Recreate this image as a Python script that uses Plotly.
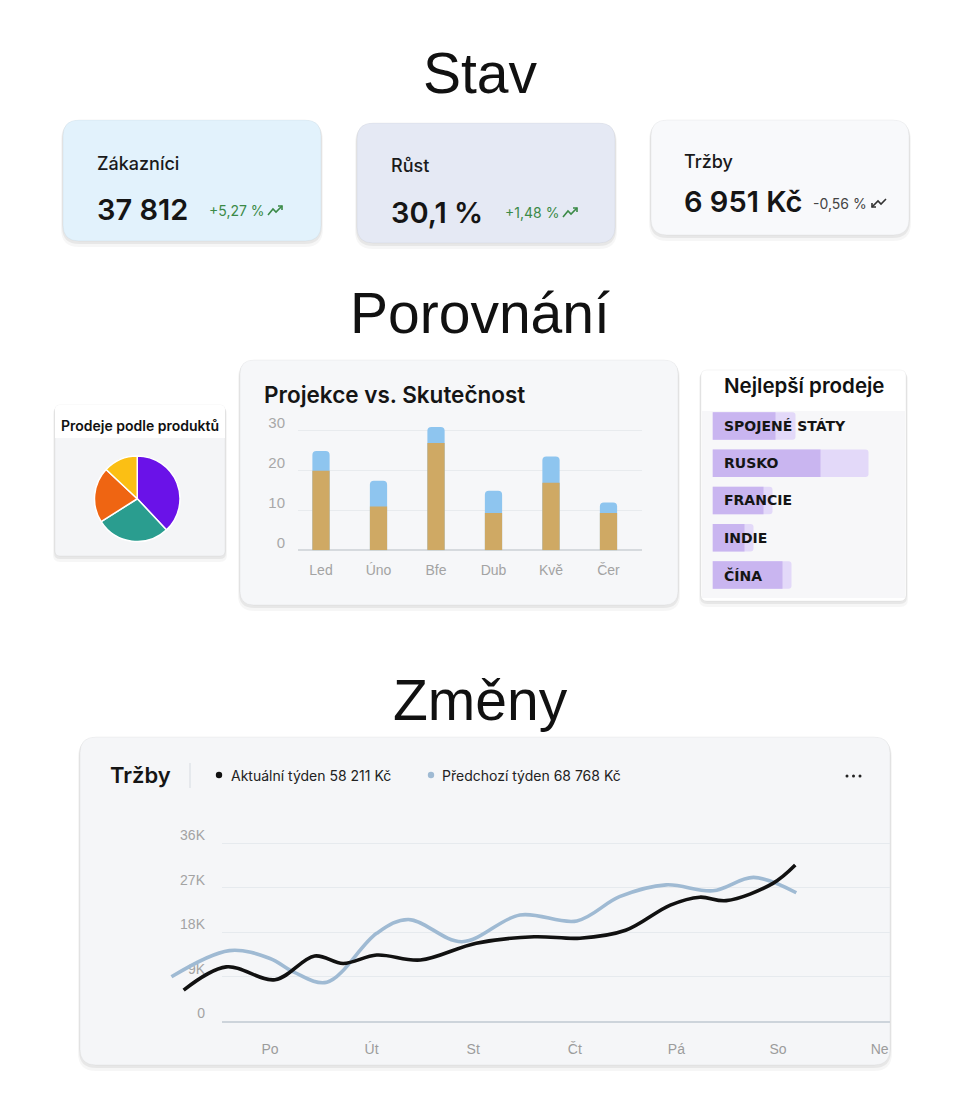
import plotly.graph_objects as go

W, H = 960, 1118

# ---------------- DATA ----------------
kpi_labels = ["Zákazníci", "Růst", "Tržby"]
kpi_values = ["37 812", "30,1 %", "6 951 Kč"]
kpi_changes = ["+5,27 %", "+1,48 %", "-0,56 %"]

pie_labels = ["Produkt A", "Produkt B", "Produkt C", "Produkt D"]
pie_values = [38, 28, 21, 13]
pie_colors = ["#6a12e8", "#2a9d8f", "#ef6512", "#fbbf14"]

months = ["Led", "Úno", "Bfe", "Dub", "Kvě", "Čer"]
skutecnost = [20, 11, 27, 9.4, 17, 9.4]
projekce = [25, 17.5, 31, 15, 23.6, 12]

countries = ["SPOJENÉ STÁTY", "RUSKO", "FRANCIE", "INDIE", "ČÍNA"]
prodeje = [63, 108, 51, 32, 70]
cil = [83, 156, 60, 41, 79]

days = ["Po", "Út", "St", "Čt", "Pá", "So", "Ne"]
cur_x = [-0.85, -0.43, 0.05, 0.44, 0.72, 1.05, 1.48, 2.03, 2.6, 3.05, 3.5, 3.94, 4.23, 4.49, 4.95, 5.17]
cur_y = [6300, 11000, 8400, 13200, 11700, 13400, 12400, 15800, 17100, 16800, 18400, 23500, 25100, 24400, 27900, 31600]
prev_x = [-0.97, -0.4, 0.0, 0.23, 0.56, 1.05, 1.36, 1.89, 2.46, 3.02, 3.44, 3.9, 4.36, 4.76, 5.18]
prev_y = [9000, 14300, 12700, 10000, 7900, 17800, 20600, 16100, 21500, 20300, 25200, 27600, 26400, 29100, 26000]
y_ticks = [0, 9000, 18000, 27000, 36000]
y_ticktext = ["0", "9K", "18K", "27K", "36K"]

# ---------------- HELPERS ----------------
def fx(x):
    return x / W


def fy(y):
    return 1 - y / H


INTER = "Inter, Roboto, sans-serif"
TITLE_FONT = "Liberation Sans, Arial, sans-serif"

shapes = []
annotations = []


def rpath(x0, y0, x1, y1, r):
    return (f"M {fx(x0 + r)},{fy(y0)} L {fx(x1 - r)},{fy(y0)} "
            f"Q {fx(x1)},{fy(y0)} {fx(x1)},{fy(y0 + r)} L {fx(x1)},{fy(y1 - r)} "
            f"Q {fx(x1)},{fy(y1)} {fx(x1 - r)},{fy(y1)} L {fx(x0 + r)},{fy(y1)} "
            f"Q {fx(x0)},{fy(y1)} {fx(x0)},{fy(y1 - r)} L {fx(x0)},{fy(y0 + r)} "
            f"Q {fx(x0)},{fy(y0)} {fx(x0 + r)},{fy(y0)} Z")


def rrect(x0, y0, x1, y1, r, fill, line=None):
    shapes.append(dict(type="path", path=rpath(x0, y0, x1, y1, r), xref="paper", yref="paper",
                       fillcolor=fill, line=dict(width=1 if line else 0, color=line or "rgba(0,0,0,0)"),
                       layer="below"))


def card(x0, y0, x1, y1, r, fill, border="rgba(0,0,0,0.04)"):
    rrect(x0 - 2, y0 + 2, x1 + 2, y1 + 6, r + 2, "rgba(0,0,0,0.035)")
    rrect(x0 - 1, y0 + 1, x1 + 1, y1 + 3, r + 1, "rgba(0,0,0,0.06)")
    rrect(x0, y0, x1, y1, r, fill, border)


def text(x, y, s, size, color="#111111", weight=400, family=INTER, xanchor="left", yanchor="middle"):
    annotations.append(dict(x=fx(x), y=fy(y), xref="paper", yref="paper", text=s, showarrow=False,
                            xanchor=xanchor, yanchor=yanchor,
                            font=dict(size=size, color=color, family=family, weight=weight)))


def polyline(points, color, width=1.6):
    p = "M " + " L ".join(f"{fx(a)},{fy(b)}" for a, b in points)
    shapes.append(dict(type="path", path=p, xref="paper", yref="paper",
                       line=dict(color=color, width=width), fillcolor="rgba(0,0,0,0)", layer="above"))


def dot(x, y, r, color, layer="above"):
    shapes.append(dict(type="circle", xref="paper", yref="paper", x0=fx(x - r), x1=fx(x + r),
                       y0=fy(y + r), y1=fy(y - r), fillcolor=color, line=dict(width=0), layer=layer))


# ---------------- SECTION TITLES ----------------
text(480, 73, "Stav", 57, "#111111", 400, TITLE_FONT, "center")
text(480, 313, "Porovnání", 57, "#111111", 400, TITLE_FONT, "center")
text(480, 700, "Změny", 57, "#111111", 400, TITLE_FONT, "center")

# ---------------- KPI CARDS ----------------
kpi_boxes = [(63, 120, 321, 241, "#e2f2fc"), (357, 123, 615, 243, "#e5e9f4"), (651, 120, 909, 235, "#f8f9fb")]
kpi_pos = [  # label xy, value xy, change xy
    ((95, 164), (95, 209), (207, 210)),
    ((389, 166), (389, 212), (503, 212)),
    ((682, 161), (682, 202), (811, 203)),
]
change_colors = ["#3b8a47", "#3b8a47", "#444444"]
for (x0, y0, x1, y1, f) in kpi_boxes:
    card(x0, y0, x1, y1, 16, f)
for i in range(3):
    (lx, ly), (vx, vy), (cx, cy) = kpi_pos[i]
    text(lx, ly, kpi_labels[i], 18, "#1a1a1a", 500)
    text(vx, vy, kpi_values[i], 29, "#151515", 600)
    text(cx, cy, kpi_changes[i], 14, change_colors[i], 400)

# trend icons
for (ix, iy) in [(268, 210), (563, 212)]:
    polyline([(ix, iy + 5), (ix + 5, iy - 1), (ix + 8, iy + 2), (ix + 14, iy - 4)], "#3b8a47")
    polyline([(ix + 10, iy - 4), (ix + 14, iy - 4), (ix + 14, iy)], "#3b8a47")
ix, iy = 871, 203
polyline([(ix + 15, iy - 4), (ix + 10, iy + 1), (ix + 7, iy - 2), (ix + 1, iy + 4)], "#333333")
polyline([(ix + 1, iy), (ix + 1, iy + 4), (ix + 5, iy + 4)], "#333333")

# ---------------- PIE CARD ----------------
card(55, 405, 225, 556, 5, "#f4f5f7")
shapes.append(dict(type="path", path=(f"M {fx(55)},{fy(438)} L {fx(55)},{fy(410)} Q {fx(55)},{fy(405)} {fx(60)},{fy(405)} "
                                      f"L {fx(220)},{fy(405)} Q {fx(225)},{fy(405)} {fx(225)},{fy(410)} L {fx(225)},{fy(438)} Z"),
                   xref="paper", yref="paper", fillcolor="#ffffff", line=dict(width=0), layer="below"))
text(140, 425, "Prodeje podle produktů", 14, "#111111", 600, INTER, "center")

# ---------------- BAR CARD ----------------
card(240, 360, 678, 605, 14, "#f6f7f9")
text(262, 394, "Projekce vs. Skutečnost", 22.5, "#151515", 600)

# ---------------- TOP SALES CARD ----------------
card(701, 370, 906, 601, 6, "#ffffff")
shapes.append(dict(type="rect", xref="paper", yref="paper", x0=fx(702), x1=fx(905), y0=fy(598), y1=fy(411),
                   fillcolor="#f7f7f9", line=dict(width=0), layer="below"))
text(804, 386, "Nejlepší prodeje", 20.5, "#111111", 600, INTER, "center")

# ---------------- LINE CARD ----------------
card(80, 737, 890, 1065, 16, "#f5f6f8")
text(108, 775, "Tržby", 22, "#151515", 600)
shapes.append(dict(type="line", xref="paper", yref="paper", x0=fx(190), x1=fx(190), y0=fy(763), y1=fy(788),
                   line=dict(color="#d6dbe1", width=1)))
dot(219, 775, 3.2, "#111111")
text(229, 775, "Aktuální týden 58 211 Kč", 14, "#222222", 400)
dot(431, 775, 3.2, "#9fbad3")
text(440, 775, "Předchozí týden 68 768 Kč", 14, "#222222", 400)
for dxp in (847, 853.5, 860):
    dot(dxp, 776, 1.5, "#222222")

# ---------------- FIGURE ----------------
fig = go.Figure()

# Pie
fig.add_trace(go.Pie(labels=pie_labels, values=pie_values, sort=False, direction="clockwise", rotation=0,
                     marker=dict(colors=pie_colors, line=dict(color="#ffffff", width=1.5)),
                     textinfo="none", hoverinfo="label+percent",
                     domain=dict(x=[fx(94.5), fx(180)], y=[fy(541.5), fy(456)])))

# Projection vs actual
fig.add_trace(go.Bar(x=months, y=projekce, width=0.3, marker=dict(color="#8ec5ef", cornerradius=4, line=dict(width=0)),
                     xaxis="x", yaxis="y", name="Projekce"))
fig.add_trace(go.Bar(x=months, y=skutecnost, width=0.3, marker=dict(color="#cfa964", line=dict(width=0)),
                     xaxis="x", yaxis="y", name="Skutečnost"))

# Top sales
fig.add_trace(go.Bar(y=countries, x=cil, orientation="h", width=0.74,
                     marker=dict(color="#e3d9f9", cornerradius=3, line=dict(width=0)), xaxis="x2", yaxis="y2", name="Cíl"))
fig.add_trace(go.Bar(y=countries, x=prodeje, orientation="h", width=0.74,
                     marker=dict(color="#c9b5f0", cornerradius=3, line=dict(width=0)), xaxis="x2", yaxis="y2", name="Prodeje"))

# Grid-axis holder for the line chart (invisible point so that axis 3 is drawn)
fig.add_trace(go.Scatter(x=[0], y=[0], mode="markers", marker=dict(opacity=0, size=1),
                         hoverinfo="skip", xaxis="x3", yaxis="y3", name=""))

# Lines
fig.add_trace(go.Scatter(x=prev_x, y=prev_y, mode="lines", line=dict(color="#9fbad3", width=3.6, shape="spline", smoothing=1.0),
                         xaxis="x4", yaxis="y4", name="Předchozí týden"))
fig.add_trace(go.Scatter(x=cur_x, y=cur_y, mode="lines", line=dict(color="#111111", width=3.6, shape="spline", smoothing=1.0),
                         xaxis="x4", yaxis="y4", name="Aktuální týden"))

# Country labels
row_y = [426, 463, 500, 538, 575]
for c, yy in zip(countries, row_y):
    text(722, yy, c, 14, "#151515", 700, "DejaVu Sans, sans-serif")

# axis geometry
bar_x0, bar_x1 = 298, 642
bar_px_per_cat = 57.5
bar_first = 321
bar_zero, bar_ppu = 550.3, 3.977
bar_top_val = 32

ts_x0, ts_x1 = 712.5, 906
row_gap = 37.3

lc_zero, lc_ppu = 1021.3, 178 / 36000
lc_top = 830
day0, day_px = 270, 101.6
lc_grid_x0, lc_data_x0, lc_x1 = 222, 160, 890

axis_font = dict(family="Liberation Sans, Arial, sans-serif", size=14, color="#a3a3a3")

fig.update_layout(
    template="none",
    width=W, height=H, autosize=False,
    margin=dict(l=0, r=0, t=0, b=0, pad=0),
    paper_bgcolor="#ffffff", plot_bgcolor="rgba(0,0,0,0)",
    showlegend=False, barmode="overlay",
    shapes=shapes, annotations=annotations,
    xaxis=dict(domain=[fx(bar_x0), fx(bar_x1)], anchor="y", type="category",
               range=[(bar_x0 - bar_first) / bar_px_per_cat, (bar_x1 - bar_first) / bar_px_per_cat],
               showgrid=False, zeroline=False, showline=False, ticks="", automargin=False,
               tickfont=axis_font, ticklabelstandoff=10, fixedrange=True),
    yaxis=dict(domain=[fy(bar_zero), fy(bar_zero - bar_top_val * bar_ppu)], anchor="x",
               range=[0, bar_top_val], tickvals=[0, 10, 20, 30], showgrid=True, gridcolor="#e8ebee", gridwidth=1,
               zeroline=True, zerolinecolor="#d6dade", zerolinewidth=1.5, ticks="", automargin=False,
               tickfont=dict(family="Liberation Sans, Arial, sans-serif", size=15, color="#a8a8a8"),
               ticklabelshift=-8, ticklabelstandoff=12, fixedrange=True),
    xaxis2=dict(domain=[fx(ts_x0), fx(ts_x1)], anchor="y2", range=[0, ts_x1 - ts_x0],
                visible=False, fixedrange=True, automargin=False),
    yaxis2=dict(domain=[fy(row_y[-1] + row_gap / 2), fy(row_y[0] - row_gap / 2)], anchor="x2",
                type="category", categoryorder="array", categoryarray=countries,
                range=[len(countries) - 0.5, -0.5], visible=False, fixedrange=True, automargin=False),
    xaxis3=dict(domain=[fx(lc_grid_x0), fx(lc_x1)], anchor="y3",
                range=[(lc_grid_x0 - day0) / day_px, (lc_x1 - day0) / day_px],
                tickvals=list(range(len(days))), ticktext=days, showgrid=False, zeroline=False,
                showline=True, linecolor="#cdd4db", linewidth=1.5, ticks="", automargin=False,
                tickfont=dict(family="Liberation Sans, Arial, sans-serif", size=14, color="#9c9c9c"),
                ticklabelstandoff=14, fixedrange=True),
    yaxis3=dict(domain=[fy(lc_zero), fy(lc_top)], anchor="x3",
                range=[0, (lc_zero - lc_top) / lc_ppu], tickvals=y_ticks, ticktext=y_ticktext,
                showgrid=True, gridcolor="#e6eaee", gridwidth=1, zeroline=False, ticks="", automargin=False,
                tickfont=dict(family="Liberation Sans, Arial, sans-serif", size=14, color="#a3a3a3"),
                ticklabelshift=-8, ticklabelstandoff=16, fixedrange=True),
    xaxis4=dict(domain=[fx(lc_data_x0), fx(lc_x1)], anchor="y4",
                range=[(lc_data_x0 - day0) / day_px, (lc_x1 - day0) / day_px], visible=False,
                fixedrange=True, automargin=False),
    yaxis4=dict(domain=[fy(lc_zero), fy(lc_top)], anchor="x4",
                range=[0, (lc_zero - lc_top) / lc_ppu], visible=False, fixedrange=True, automargin=False),
)

fig.write_html("out.html", config=dict(displayModeBar=False))
